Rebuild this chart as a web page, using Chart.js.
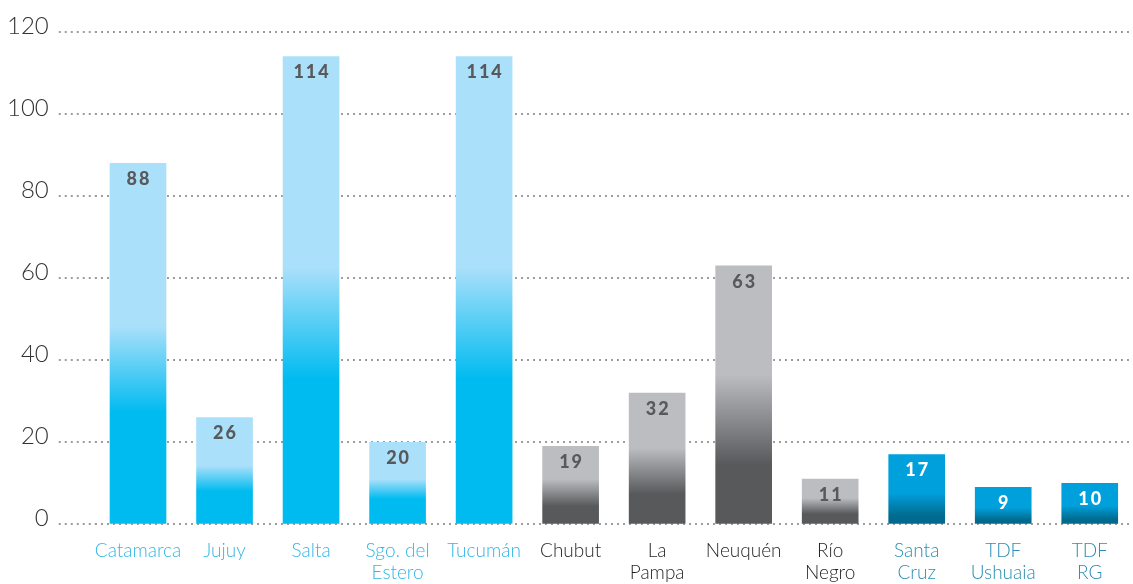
<!DOCTYPE html>
<html>
<head>
<meta charset="utf-8">
<script src="https://cdn.jsdelivr.net/npm/chart.js@4/dist/chart.umd.min.js"></script>
<style>
    html, body { margin: 0; padding: 0; background: #fff; }
    #wrap { width: 1133px; height: 584px; }
</style>
</head>
<body>
<div id="wrap"><canvas id="provChart" width="1133" height="584"></canvas></div>
<script>
// data
const provinces = [['Catamarca'], ['Jujuy'], ['Salta'], ['Sgo. del', 'Estero'], ['Tucumán'],
    ['Chubut'], ['La', 'Pampa'], ['Neuquén'], ['Río', 'Negro'],
    ['Santa', 'Cruz'], ['TDF', 'Ushuaia'], ['TDF', 'RG']];
const counts = [88, 26, 114, 20, 114, 19, 32, 63, 11, 17, 9, 10];
const regionOf = ['noa', 'noa', 'noa', 'noa', 'noa', 'pat', 'pat', 'pat', 'pat', 'sur', 'sur', 'sur'];
const yTicks = [0, 20, 40, 60, 80, 100, 120];

// colours per region group
const styles = {
    noa: { top: '#abe0fa', bottom: '#00bbf0', from: 0.45, to: 0.69, label: '#33b5e6', value: '#58595b' },
    pat: { top: '#bcbdc0', bottom: '#58595b', from: 0.42, to: 0.77, label: '#231f20', value: '#58595b' },
    sur: { top: '#00a0dc', bottom: '#006b8f', from: 0.55, to: 0.88, label: '#2a8db3', value: '#ffffff' }
};

function barGradient(context) {
    const chart = context.chart;
    if (!chart.chartArea) return null;
    const s = styles[regionOf[context.dataIndex]];
    const y = chart.scales.y;
    const top = y.getPixelForValue(counts[context.dataIndex]);
    const bottom = y.getPixelForValue(0);
    const g = chart.ctx.createLinearGradient(0, top, 0, bottom);
    g.addColorStop(0, s.top);
    g.addColorStop(s.from, s.top);
    g.addColorStop(s.to, s.bottom);
    g.addColorStop(1, s.bottom);
    return g;
}

// numbers written inside the top of each bar
const valueLabels = {
    id: 'valueLabels',
    afterDatasetsDraw(chart) {
        const ctx = chart.ctx;
        const meta = chart.getDatasetMeta(0);
        ctx.save();
        ctx.font = '900 18px Lato';
        ctx.letterSpacing = '2px';
        ctx.textAlign = 'center';
        ctx.textBaseline = 'middle';
        meta.data.forEach((bar, i) => {
            ctx.fillStyle = styles[regionOf[i]].value;
            ctx.fillText(String(counts[i]), bar.x + 1, bar.y + 16);
        });
        ctx.restore();
    }
};

new Chart(document.getElementById('provChart'), {
    type: 'bar',
    data: {
        labels: provinces,
        datasets: [{
            data: counts,
            backgroundColor: barGradient,
            borderWidth: 0,
            barThickness: 56
        }]
    },
    options: {
        responsive: false,
        animation: false,
        layout: { padding: { left: -3, right: 0, top: 32, bottom: 2 } },
        plugins: {
            legend: { display: false },
            tooltip: { enabled: false }
        },
        scales: {
            x: {
                grid: { display: false, drawTicks: false },
                border: { display: false },
                afterFit: axis => { axis.height -= 18; },
                ticks: {
                    padding: 16,
                    maxRotation: 0,
                    autoSkip: false,
                    color: ctx => styles[regionOf[ctx.index]].label,
                    font: { family: 'Lato', size: 19, weight: '300', lineHeight: 1.15 }
                }
            },
            y: {
                min: 0,
                max: 120,
                afterBuildTicks: axis => { axis.ticks = yTicks.map(v => ({ value: v })); },
                border: { display: false, dash: [2, 4] },
                grid: {
                    color: '#9d9d9d',
                    lineWidth: 2,
                    tickLength: 36,
                    tickColor: '#9d9d9d',
                    tickWidth: 2,
                    tickBorderDash: [2, 4]
                },
                ticks: {
                    padding: 10,
                    labelOffset: -6,
                    color: '#333333',
                    font: { family: 'Lato', size: 24, weight: '300' }
                }
            }
        }
    },
    plugins: [valueLabels]
});
</script>
</body>
</html>
